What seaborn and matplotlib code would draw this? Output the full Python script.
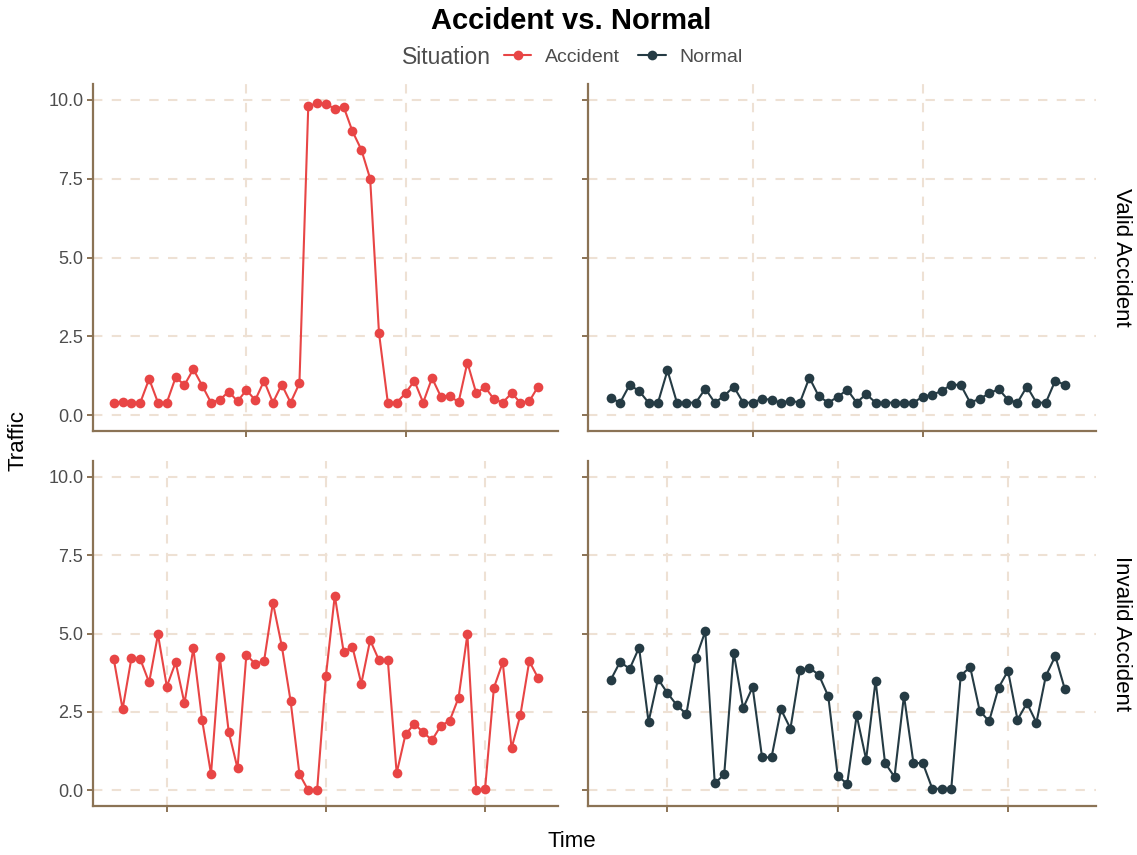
import numpy as np
import pandas as pd
import matplotlib
matplotlib.use("Agg")
import matplotlib.pyplot as plt
from matplotlib.lines import Line2D
import seaborn as sns

# ---- data -------------------------------------------------------------
time_steps = list(range(49))

valid_accident = [0.40, 0.42, 0.40, 0.40, 1.15, 0.40, 0.40, 1.20, 0.96, 1.46,
                  0.94, 0.40, 0.49, 0.75, 0.44, 0.80, 0.48, 1.09, 0.40, 0.97,
                  0.40, 1.01, 9.79, 9.90, 9.86, 9.72, 9.78, 9.00, 8.42, 7.50,
                  2.61, 0.40, 0.40, 0.70, 1.09, 0.40, 1.18, 0.59, 0.62, 0.41,
                  1.67, 0.70, 0.89, 0.51, 0.40, 0.70, 0.40, 0.44, 0.91]

valid_normal = [0.54, 0.40, 0.96, 0.77, 0.40, 0.40, 1.42, 0.40, 0.40, 0.40,
                0.84, 0.40, 0.61, 0.91, 0.40, 0.40, 0.52, 0.49, 0.40, 0.46,
                0.40, 1.19, 0.60, 0.40, 0.58, 0.81, 0.40, 0.67, 0.40, 0.40,
                0.40, 0.40, 0.40, 0.59, 0.65, 0.77, 0.97, 0.96, 0.40, 0.52,
                0.69, 0.83, 0.49, 0.40, 0.91, 0.40, 0.40, 1.10, 0.96]

invalid_accident = [4.18, 2.59, 4.22, 4.18, 3.44, 4.97, 3.31, 4.08, 2.77, 4.53,
                    2.23, 0.52, 4.24, 1.87, 0.70, 4.33, 4.03, 4.12, 5.98, 4.61,
                    2.85, 0.52, 0.00, 0.00, 3.65, 6.21, 4.42, 4.57, 3.40, 4.79,
                    4.15, 4.15, 0.55, 1.78, 2.12, 1.85, 1.60, 2.06, 2.22, 2.95,
                    4.97, 0.00, 0.04, 3.27, 4.08, 1.34, 2.41, 4.12, 3.58]

invalid_normal = [3.52, 4.10, 3.87, 4.55, 2.18, 3.55, 3.10, 2.71, 2.43, 4.21,
                  5.07, 0.22, 0.51, 4.39, 2.62, 3.29, 1.05, 1.05, 2.58, 1.97,
                  3.83, 3.91, 3.68, 3.00, 0.45, 0.21, 2.39, 0.98, 3.50, 0.87,
                  0.43, 3.02, 0.88, 0.86, 0.05, 0.05, 0.05, 3.66, 3.93, 2.54,
                  2.20, 3.27, 3.81, 2.25, 2.78, 2.16, 3.65, 4.28, 3.23]

situations = ["Accident", "Normal"]
facet_rows = ["Valid Accident", "Invalid Accident"]
y_ticks = [0.0, 2.5, 5.0, 7.5, 10.0]
y_tick_labels = ["0.0", "2.5", "5.0", "7.5", "10.0"]
# time breaks for each row of panels
row_breaks = {"Valid Accident": [15, 33], "Invalid Accident": [6, 24, 42]}

records = []
for row, sit, vals in [("Valid Accident", "Accident", valid_accident),
                       ("Valid Accident", "Normal", valid_normal),
                       ("Invalid Accident", "Accident", invalid_accident),
                       ("Invalid Accident", "Normal", invalid_normal)]:
    for t, v in zip(time_steps, vals):
        records.append({"Type": row, "Situation": sit, "Time": t, "Traffic": v})
df = pd.DataFrame(records)

# ---- style ------------------------------------------------------------
sns.set_theme(style="white")
plt.rcParams["font.family"] = ["Liberation Sans", "DejaVu Sans"]

palette = {"Accident": "#E84545", "Normal": "#253B44"}
axis_col = "#8B7355"
grid_col = "#EEE1D4"
tick_text = "#4D4D4D"

W, H = 1137, 855
fig = plt.figure(figsize=(W / 100, H / 100), dpi=100)

col_px = {"Accident": (93, 558), "Normal": (588, 1096)}
row_px = {"Valid Accident": (84, 431), "Invalid Accident": (461, 806)}
col_xlim = {"Accident": (-2.35, 50.25), "Normal": (-2.4, 51.3)}

for row in facet_rows:
    for sit in situations:
        x0, x1 = col_px[sit]
        y0, y1 = row_px[row]
        ax = fig.add_axes([x0 / W, 1 - y1 / H, (x1 - x0) / W, (y1 - y0) / H])
        sub = df[(df["Type"] == row) & (df["Situation"] == sit)]
        sns.lineplot(data=sub, x="Time", y="Traffic", ax=ax, color=palette[sit],
                     marker="o", markersize=7, markeredgewidth=0,
                     linewidth=1.5, legend=False, zorder=3)
        ax.set_xlim(*col_xlim[sit])
        ax.set_ylim(-0.5, 10.5)
        ax.set_xticks(row_breaks[row])
        ax.set_xticklabels([])
        ax.set_yticks(y_ticks)
        if sit == "Accident":
            ax.set_yticklabels(y_tick_labels, fontsize=13, color=tick_text)
        else:
            ax.set_yticklabels([])
        ax.set_xlabel("")
        ax.set_ylabel("")
        ax.grid(True, linestyle=(0, (4.5, 4.5)), color=grid_col, linewidth=1.5, zorder=0)
        ax.set_axisbelow(True)
        for side in ["top", "right"]:
            ax.spines[side].set_visible(False)
        for side in ["left", "bottom"]:
            ax.spines[side].set_color(axis_col)
            ax.spines[side].set_linewidth(1.6)
        ax.tick_params(axis="both", which="both", direction="out", length=4,
                       width=1.4, color=axis_col, left=True, bottom=True, pad=3)
        if sit == "Normal":
            fig.text(1122 / W, 1 - ((y0 + y1) / 2) / H, row, rotation=-90,
                     ha="center", va="center", fontsize=16, color="black")

# titles and labels
fig.text(571 / W, 1 - 21 / H, "Accident vs. Normal", ha="center", va="center",
         fontsize=21, fontweight="bold", color="black")
fig.text(18 / W, 1 - 440 / H, "Traffic", rotation=90, ha="center", va="center",
         fontsize=16, color="black")
fig.text(572 / W, 1 - 841 / H, "Time", ha="center", va="center",
         fontsize=16, color="black")

# legend
fig.text(491 / W, 1 - 57 / H, "Situation", ha="right", va="center",
         fontsize=16.5, color="#4D4D4D")
handles = [Line2D([0], [0], color=palette[s], marker="o", markersize=7,
                  markeredgewidth=0, linewidth=1.5) for s in situations]
leg = fig.legend(handles, situations, loc="center left",
                 bbox_to_anchor=(504 / W, 1 - 57 / H), ncol=2, frameon=False,
                 fontsize=14, handlelength=1.4, handletextpad=0.7,
                 columnspacing=0.95, borderpad=0, borderaxespad=0)
for txt in leg.get_texts():
    txt.set_color("#4D4D4D")

fig.savefig("out.png", dpi=100)
